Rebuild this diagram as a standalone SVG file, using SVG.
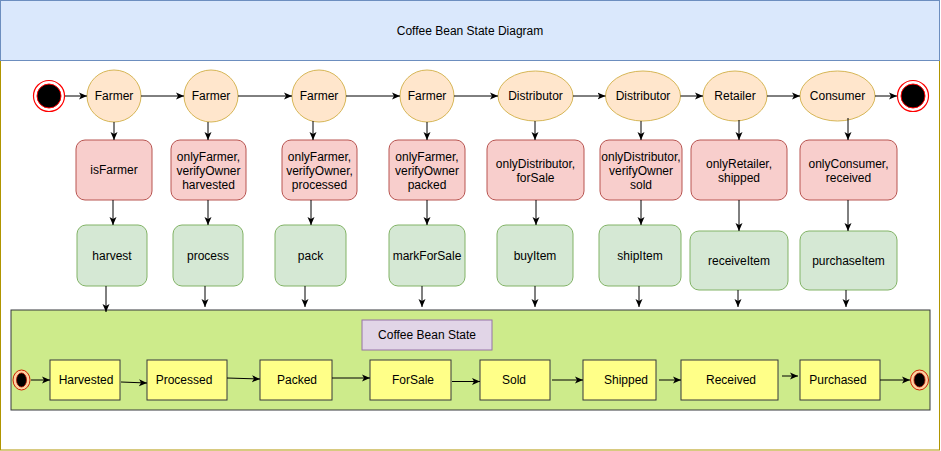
<svg xmlns="http://www.w3.org/2000/svg" width="941" height="451" viewBox="0 0 941 451">
<style>
text{font-family:"Liberation Sans",Arial,sans-serif;font-size:12px;fill:#000;text-anchor:middle}
.actor{fill:#ffe6cc;stroke:#d6b656;stroke-width:1}
.guard{fill:#f8cecc;stroke:#b85450;stroke-width:1}
.fn{fill:#d5e8d4;stroke:#82b366;stroke-width:1}
.state{fill:#ffff88;stroke:#36393d;stroke-width:1}
.conn line,.conn path{stroke:#000;stroke-width:1;fill:none;marker-end:url(#arr)}
</style>
<defs>
<marker id="arr" markerUnits="userSpaceOnUse" markerWidth="9" markerHeight="8" refX="8" refY="4" orient="auto">
<path d="M0,0.5 L8,4 L0,7.5 L2,4 z" fill="#000" stroke="none"/>
</marker>
</defs>
<rect x="0" y="0" width="941" height="451" fill="#fff"/>
<g id="frame">
<rect x="0.5" y="60.5" width="939" height="389.5" fill="#fff" stroke="#b09500"/>
<rect x="0.5" y="0.5" width="939" height="60" fill="#dae8fc" stroke="#6c8ebf"/>
<text x="470" y="35">Coffee Bean State Diagram</text>
</g>
<g id="start">
<circle cx="49" cy="96" r="15.5" fill="#fff" stroke="#ff0000" stroke-width="1.2"/>
<circle cx="49" cy="96" r="12" fill="#000" stroke="#ff0000"/>
</g>
<g id="end">
<circle cx="913" cy="96" r="15.5" fill="#fff" stroke="#ff0000" stroke-width="1.2"/>
<circle cx="913" cy="96" r="12" fill="#000" stroke="#ff0000"/>
</g>
<g id="actor-farmer1"><ellipse class="actor" cx="114" cy="96" rx="27" ry="26"/><text x="114" y="100">Farmer</text></g>
<g id="actor-farmer2"><ellipse class="actor" cx="211" cy="96" rx="27" ry="26"/><text x="211" y="100">Farmer</text></g>
<g id="actor-farmer3"><ellipse class="actor" cx="319" cy="96" rx="27" ry="26"/><text x="319" y="100">Farmer</text></g>
<g id="actor-farmer4"><ellipse class="actor" cx="427" cy="96" rx="27" ry="26"/><text x="427" y="100">Farmer</text></g>
<g id="actor-distributor1"><ellipse class="actor" cx="535.5" cy="96" rx="37.5" ry="25"/><text x="535.5" y="100">Distributor</text></g>
<g id="actor-distributor2"><ellipse class="actor" cx="643" cy="96" rx="37.5" ry="25"/><text x="643" y="100">Distributor</text></g>
<g id="actor-retailer"><ellipse class="actor" cx="735" cy="96" rx="32" ry="25"/><text x="735" y="100">Retailer</text></g>
<g id="actor-consumer"><ellipse class="actor" cx="837.5" cy="96" rx="37.5" ry="25"/><text x="837.5" y="100">Consumer</text></g>

<g id="guard-isFarmer"><rect class="guard" x="76" y="140" width="76" height="60" rx="9"/><text x="114" y="174">isFarmer</text></g>
<g id="guard-harvested"><rect class="guard" x="171" y="140" width="75" height="60" rx="9"/><text x="208.5" y="161">onlyFarmer,</text><text x="208.5" y="175">verifyOwner</text><text x="208.5" y="189">harvested</text></g>
<g id="guard-processed"><rect class="guard" x="282" y="140" width="75" height="60" rx="9"/><text x="319.5" y="161">onlyFarmer,</text><text x="319.5" y="175">verifyOwner,</text><text x="319.5" y="189">processed</text></g>
<g id="guard-packed"><rect class="guard" x="389" y="140" width="76" height="60" rx="9"/><text x="427" y="161">onlyFarmer,</text><text x="427" y="175">verifyOwner</text><text x="427" y="189">packed</text></g>
<g id="guard-forSale"><rect class="guard" x="487" y="140" width="97" height="60" rx="9"/><text x="535.5" y="168">onlyDistributor,</text><text x="535.5" y="182">forSale</text></g>
<g id="guard-sold"><rect class="guard" x="600" y="140" width="82" height="60" rx="9"/><text x="641" y="161">onlyDistributor,</text><text x="641" y="175">verifyOwner</text><text x="641" y="189">sold</text></g>
<g id="guard-shipped"><rect class="guard" x="691" y="140" width="96" height="60" rx="9"/><text x="739" y="168">onlyRetailer,</text><text x="739" y="182">shipped</text></g>
<g id="guard-received"><rect class="guard" x="800" y="140" width="97" height="60" rx="9"/><text x="848.5" y="168">onlyConsumer,</text><text x="848.5" y="182">received</text></g>

<g id="fn-harvest"><rect class="fn" x="77" y="225" width="70" height="61" rx="9"/><text x="112" y="260">harvest</text></g>
<g id="fn-process"><rect class="fn" x="173" y="225" width="70" height="61" rx="9"/><text x="208" y="260">process</text></g>
<g id="fn-pack"><rect class="fn" x="275" y="225" width="71" height="61" rx="9"/><text x="310.5" y="260">pack</text></g>
<g id="fn-markForSale"><rect class="fn" x="389" y="225" width="76" height="61" rx="9"/><text x="427" y="260">markForSale</text></g>
<g id="fn-buyItem"><rect class="fn" x="497" y="225" width="76" height="61" rx="9"/><text x="535" y="260">buyItem</text></g>
<g id="fn-shipItem"><rect class="fn" x="599" y="225" width="82" height="61" rx="9"/><text x="640" y="260">shipItem</text></g>
<g id="fn-receiveItem"><rect class="fn" x="690" y="231" width="98" height="59" rx="9"/><text x="739" y="265">receiveItem</text></g>
<g id="fn-purchaseItem"><rect class="fn" x="800" y="231" width="97" height="59" rx="9"/><text x="848.5" y="265">purchaseItem</text></g>

<g id="state-container">
<rect x="11" y="310" width="919" height="100" fill="#cdeb8b" stroke="#36393d"/>
<rect x="362" y="320" width="130" height="30" fill="#e1d5e7" stroke="#9673a6"/>
<text x="427" y="339">Coffee Bean State</text>
</g>
<g id="state-start">
<ellipse cx="21.5" cy="380" rx="8.5" ry="10" fill="#ffd0a0" stroke="#cc2200"/>
<ellipse cx="21.5" cy="380" rx="5" ry="7" fill="#000" stroke="#aa1100" stroke-width="0.8"/>
</g>
<g id="state-end">
<ellipse cx="919.5" cy="380" rx="9" ry="10" fill="#ffd0a0" stroke="#cc2200"/>
<ellipse cx="919.5" cy="380" rx="5.5" ry="7" fill="#000" stroke="#aa1100" stroke-width="0.8"/>
</g>
<g id="state-harvested"><rect class="state" x="50" y="360" width="70" height="40"/><text x="86" y="384">Harvested</text></g>
<g id="state-processed"><rect class="state" x="147" y="360" width="80" height="40"/><text x="184" y="384">Processed</text></g>
<g id="state-packed"><rect class="state" x="260" y="360" width="72" height="40"/><text x="297" y="384">Packed</text></g>
<g id="state-forsale"><rect class="state" x="370" y="360" width="81" height="40"/><text x="413" y="384">ForSale</text></g>
<g id="state-sold"><rect class="state" x="480" y="360" width="70" height="40"/><text x="514" y="384">Sold</text></g>
<g id="state-shipped"><rect class="state" x="583" y="360" width="73" height="40"/><text x="626" y="384">Shipped</text></g>
<g id="state-received"><rect class="state" x="681" y="360" width="97" height="40"/><text x="731" y="384">Received</text></g>
<g id="state-purchased"><rect class="state" x="800" y="360" width="80" height="40"/><text x="838" y="384">Purchased</text></g>

<g id="connectors" class="conn">
<line x1="65" y1="96" x2="87" y2="96"/>
<line x1="141" y1="96" x2="184" y2="96"/>
<line x1="238" y1="96" x2="292" y2="96"/>
<line x1="346" y1="96" x2="400" y2="96"/>
<line x1="454" y1="96" x2="498" y2="96"/>
<line x1="573" y1="96" x2="605.5" y2="96"/>
<line x1="680.5" y1="96" x2="703" y2="96"/>
<line x1="767" y1="96" x2="800" y2="96"/>
<line x1="875" y1="96" x2="897" y2="96"/>

<line x1="114" y1="122" x2="114" y2="140"/>
<line x1="208" y1="122" x2="208" y2="140"/>
<line x1="313" y1="121" x2="313" y2="140"/>
<line x1="427" y1="122" x2="427" y2="140"/>
<line x1="535" y1="121" x2="535" y2="140"/>
<line x1="641" y1="121" x2="641" y2="140"/>
<line x1="739" y1="120" x2="739" y2="140"/>
<line x1="848" y1="118" x2="848" y2="140"/>

<line x1="113" y1="200" x2="113" y2="225"/>
<line x1="208" y1="200" x2="208" y2="225"/>
<line x1="311" y1="200" x2="311" y2="225"/>
<line x1="427" y1="200" x2="427" y2="225"/>
<line x1="536" y1="200" x2="536" y2="225"/>
<line x1="641" y1="200" x2="641" y2="225"/>
<line x1="739" y1="200" x2="739" y2="231"/>
<line x1="848" y1="200" x2="848" y2="231"/>

<line x1="106" y1="286" x2="106" y2="312"/>
<line x1="205" y1="286" x2="205" y2="307"/>
<line x1="305" y1="286" x2="305" y2="307"/>
<line x1="422" y1="286" x2="422" y2="307"/>
<line x1="535" y1="286" x2="535" y2="307"/>
<line x1="639" y1="286" x2="639" y2="307"/>
<line x1="738" y1="290" x2="738" y2="307"/>
<line x1="846" y1="290" x2="846" y2="307"/>

<line x1="31" y1="380" x2="50" y2="380"/>
<line x1="121" y1="382" x2="147" y2="383"/>
<line x1="227" y1="378" x2="260" y2="379"/>
<line x1="332" y1="378" x2="370" y2="378"/>
<line x1="452" y1="381.5" x2="480" y2="381.5"/>
<line x1="552" y1="380" x2="583" y2="380"/>
<line x1="659" y1="380" x2="681" y2="380"/>
<line x1="782" y1="376" x2="798" y2="376"/>
<line x1="880" y1="380" x2="910" y2="380"/>
</g>
</svg>
